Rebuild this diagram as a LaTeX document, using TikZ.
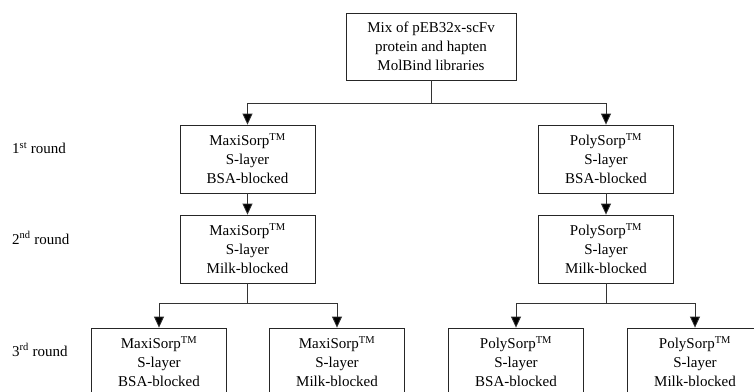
\documentclass[tikz,border=0pt]{standalone}
\usepackage{fontspec}
\setmainfont{Liberation Serif}
\usetikzlibrary{arrows.meta}
\begin{document}
\begin{tikzpicture}[x=1pt,y=-1pt,
  box/.style={draw=black!85, line width=0.8pt, minimum width=135pt, minimum height=68pt,
    align=center, font=\fontsize{15}{19}\selectfont, inner sep=0pt},
  lbl/.style={anchor=west, font=\fontsize{15}{19}\selectfont, inner sep=0pt},
  conn/.style={draw=black!80, line width=0.8pt},
  arr/.style={conn, -{Triangle[length=11pt,width=10pt,fill=black]}}]
\useasboundingbox (0,0) rectangle (754,391);
\clip (0,0) rectangle (754,391);
\fill[white] (0,0) rectangle (754,391);
% top
\node[box, minimum width=170pt, minimum height=67pt] (top) at (431,46.5)
  {Mix of pEB32x-scFv\\protein and hapten\\MolBind libraries};
% round labels
\node[lbl] (r1) at (12,148) {1\textsuperscript{st} round};
\node[lbl] (r2) at (12,238) {2\textsuperscript{nd} round};
\node[lbl] (r3) at (12,350) {3\textsuperscript{rd} round};
% level 1
\node[box] (m1) at (247.5,159) {MaxiSorp\textsuperscript{TM}\\S-layer\\BSA-blocked};
\node[box] (p1) at (606,159) {PolySorp\textsuperscript{TM}\\S-layer\\BSA-blocked};
% level 2
\node[box] (m2) at (247.5,249) {MaxiSorp\textsuperscript{TM}\\S-layer\\Milk-blocked};
\node[box] (p2) at (606,249) {PolySorp\textsuperscript{TM}\\S-layer\\Milk-blocked};
% level 3
\node[box] (m3a) at (159,362) {MaxiSorp\textsuperscript{TM}\\S-layer\\BSA-blocked};
\node[box] (m3b) at (337,362) {MaxiSorp\textsuperscript{TM}\\S-layer\\Milk-blocked};
\node[box] (p3a) at (516,362) {PolySorp\textsuperscript{TM}\\S-layer\\BSA-blocked};
\node[box] (p3b) at (695,362) {PolySorp\textsuperscript{TM}\\S-layer\\Milk-blocked};
% connectors
\coordinate (j0) at (431,103);
\draw[conn] (top) -- (j0);
\draw[arr] (j0) -| (m1);
\draw[arr] (j0) -| (p1);
\draw[arr] (m1) -- (m2);
\draw[arr] (p1) -- (p2);
\coordinate (jm) at (247.5,303);
\coordinate (jp) at (606,303);
\draw[conn] (m2) -- (jm);
\draw[arr] (jm) -| (m3a);
\draw[arr] (jm) -| (m3b);
\draw[conn] (p2) -- (jp);
\draw[arr] (jp) -| (p3a);
\draw[arr] (jp) -| (p3b);
\end{tikzpicture}
\end{document}
